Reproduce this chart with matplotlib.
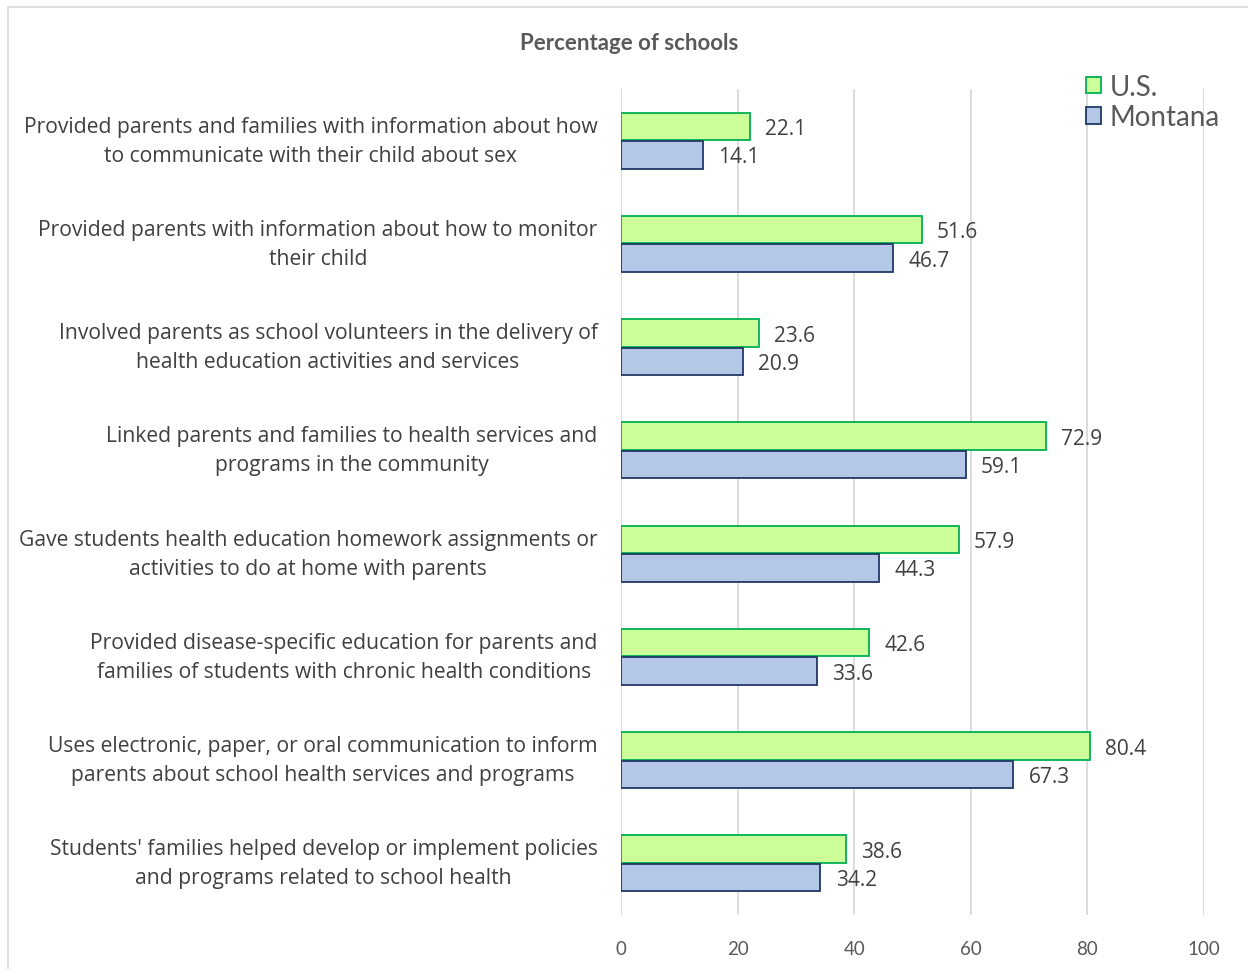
import matplotlib.pyplot as plt
import matplotlib.patches as mpatches
import numpy as np

plt.rcParams['font.family'] = ['Lato', 'DejaVu Sans']

categories = [
    "Provided parents and families with information about how\nto communicate with their child about sex",
    "Provided parents with information about how to monitor\ntheir child",
    "Involved parents as school volunteers in the delivery of\nhealth education activities and services",
    "Linked parents and families to health services and\nprograms in the community",
    "Gave students health education homework assignments or\nactivities to do at home with parents",
    "Provided disease-specific education for parents and\nfamilies of students with chronic health conditions",
    "Uses electronic, paper, or oral communication to inform\nparents about school health services and programs",
    "Students' families helped develop or implement policies\nand programs related to school health",
]
us = [22.1, 51.6, 23.6, 72.9, 57.9, 42.6, 80.4, 38.6]
montana = [14.1, 46.7, 20.9, 59.1, 44.3, 33.6, 67.3, 34.2]
xticks = [0, 20, 40, 60, 80, 100]

text_color = "#404040"
tick_color = "#595959"
body_font = ['Open Sans', 'DejaVu Sans']

fig = plt.figure(figsize=(12.48, 9.7), dpi=100)
fig.patches.append(mpatches.Rectangle((8 / 1248, -0.01), 1.0, 1 - 8 / 970 + 0.01,
                                      transform=fig.transFigure, fill=False,
                                      edgecolor="#D9D9D9", linewidth=1.2))
ax = fig.add_axes([621 / 1248, 1 - 916 / 970, (1204 - 621) / 1248, (916 - 90) / 970])

y = np.arange(len(categories))
h = 0.265
b1 = ax.barh(y - h / 2 - 0.005, us, height=h, color="#CCFF99", edgecolor="#00B050",
             linewidth=1.3, label="U.S.", zorder=3)
b2 = ax.barh(y + h / 2 + 0.005, montana, height=h, color="#B4C7E7", edgecolor="#1F3864",
             linewidth=1.3, label="Montana", zorder=3)

for bars, vals in ((b1, us), (b2, montana)):
    for bar, v in zip(bars, vals):
        ax.annotate(f"{v:.1f}", xy=(v, bar.get_y() + bar.get_height() / 2),
                    xytext=(11, -1.5), textcoords="offset points", ha="left", va="center",
                    fontsize=15, family=body_font, color=text_color, zorder=4)

ax.set_xlim(0, 100)
ax.set_ylim(len(categories) - 0.5, -0.5)
ax.set_xticks(xticks)
ax.set_xticklabels([str(t) for t in xticks], fontsize=13.5, color=tick_color)
ax.set_yticks(y)
ax.set_yticklabels(categories, fontsize=15.2, family=body_font, color=text_color,
                   linespacing=1.5, multialignment="center", va="center")
ax.tick_params(axis="both", length=0)
ax.tick_params(axis="y", pad=17)
ax.tick_params(axis="x", pad=18)
ax.grid(axis="x", color="#D9D9D9", linewidth=1.3, zorder=0)
for s in ax.spines.values():
    s.set_visible(False)

fig.text(629 / 1248, 1 - 44 / 970, "Percentage of schools", ha="center", va="center",
         fontsize=16, fontweight="bold", color=tick_color)

fig.legend(handles=[b1, b2], loc="upper left", bbox_to_anchor=(1072 / 1248, 1 - 61 / 970),
           frameon=False, fontsize=20, handlelength=0.55, handleheight=0.55,
           handletextpad=0.3, labelspacing=0.15, borderpad=0, labelcolor=tick_color)

fig.savefig("out.png", dpi=100)
